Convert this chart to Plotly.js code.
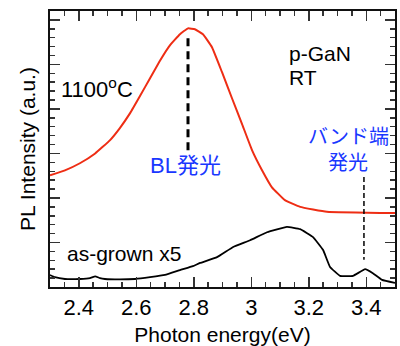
<!DOCTYPE html>
<html>
<head>
<meta charset="utf-8">
<script src="https://cdn.plot.ly/plotly-3.0.1.min.js"></script>
<style>html,body{margin:0;padding:0;background:#fff;}#chart{width:400px;height:346px;}</style>
</head>
<body>
<div id="chart"></div>
<script>
// 1100°C annealed sample (red)
var annealE = [2.300, 2.352, 2.404, 2.457, 2.509, 2.543, 2.578, 2.613, 2.648, 2.683, 2.717, 2.752, 2.780, 2.804, 2.832, 2.863, 2.898, 2.933, 2.968, 3.003, 3.037, 3.072, 3.117, 3.170, 3.263, 3.500];
var annealI = [2.51, 2.62, 2.78, 3.00, 3.30, 3.57, 3.90, 4.29, 4.69, 5.09, 5.43, 5.68, 5.81, 5.79, 5.68, 5.39, 4.83, 4.24, 3.66, 3.07, 2.63, 2.24, 1.95, 1.80, 1.69, 1.66];
// as-grown sample x5 (black)
var grownE = [2.30, 2.317, 2.352, 2.404, 2.439, 2.457, 2.474, 2.491, 2.543, 2.596, 2.648, 2.700, 2.752, 2.797, 2.822, 2.881, 2.937, 2.996, 3.055, 3.124, 3.170, 3.215, 3.250, 3.274, 3.309, 3.354, 3.396, 3.423, 3.455, 3.500];
var grownI = [0.27, 0.22, 0.18, 0.18, 0.20, 0.24, 0.20, 0.18, 0.17, 0.18, 0.22, 0.27, 0.38, 0.47, 0.54, 0.67, 0.90, 1.05, 1.23, 1.35, 1.30, 1.12, 0.83, 0.45, 0.25, 0.25, 0.40, 0.31, 0.16, 0.09];
// marker lines
var blLineE = [2.78, 2.78];
var blLineI = [5.59, 3.07];
var edgeLineE = [3.392, 3.392];
var edgeLineI = [2.47, 0.61];
// ticks
var xTickVals = [2.4, 2.6, 2.8, 3.0, 3.2, 3.4];
var xTickText = ['2.4', '2.6', '2.8', '3', '3.2', '3.4'];

var FONT = 'Liberation Sans, Arial, Helvetica, Noto Sans CJK JP, sans-serif';
var JFONT = 'Liberation Sans, Arial, Noto Sans CJK JP, sans-serif';
var BLUE = 'rgb(25,55,255)';

var traces = [
  {x: annealE, y: annealI, type: 'scatter', mode: 'lines', line: {color: 'rgb(238,45,20)', width: 2, shape: 'spline', smoothing: 0.3}, name: '1100°C', hoverinfo: 'skip'},
  {x: grownE, y: grownI, type: 'scatter', mode: 'lines', line: {color: '#000', width: 1.8, shape: 'spline', smoothing: 0.3}, name: 'as-grown x5', hoverinfo: 'skip'},
  {x: blLineE, y: blLineI, type: 'scatter', mode: 'lines', line: {color: '#000', width: 3, dash: '8px,5px'}, hoverinfo: 'skip'},
  {x: edgeLineE, y: edgeLineI, type: 'scatter', mode: 'lines', line: {color: '#000', width: 1.5, dash: '5px,3px'}, hoverinfo: 'skip'}
];

var layout = {
  width: 400, height: 346,
  margin: {l: 50, r: 5, t: 11, b: 59},
  paper_bgcolor: '#fff', plot_bgcolor: '#fff',
  showlegend: false,
  font: {family: FONT, color: '#000', size: 21},
  xaxis: {
    range: [2.3, 3.5], tickvals: xTickVals, ticktext: xTickText,
    ticks: 'inside', ticklen: 10, tickwidth: 1.5, tickcolor: '#333',
    minor: {dtick: 0.05, tick0: 2.3, ticks: 'inside', ticklen: 5, tickwidth: 1.5, tickcolor: '#333'},
    showline: true, linecolor: '#111', linewidth: 2, mirror: 'ticks',
    showgrid: false, zeroline: false,
    tickfont: {family: FONT, size: 22, color: '#000'},
    title: {text: 'Photon energy(eV)', font: {family: FONT, size: 21, color: '#000'}, standoff: 9}
  },
  yaxis: {
    range: [0, 6.2], dtick: 1, tick0: 0, showticklabels: false,
    ticks: 'inside', ticklen: 10, tickwidth: 1.5, tickcolor: '#333',
    minor: {dtick: 0.2, tick0: 0, ticks: 'inside', ticklen: 5, tickwidth: 1.5, tickcolor: '#333'},
    showline: true, linecolor: '#111', linewidth: 2, mirror: 'ticks',
    showgrid: false, zeroline: false,
    title: {text: 'PL Intensity (a.u.)', font: {family: FONT, size: 21, color: '#000'}, standoff: 7}
  },
  annotations: [
    {x: 2.463, y: 4.47, xref: 'x', yref: 'y', text: '1100<sup>o</sup>C', showarrow: false, font: {family: FONT, size: 22, color: '#000'}},
    {x: 3.124, y: 5.25, xref: 'x', yref: 'y', xanchor: 'left', text: 'p-GaN', showarrow: false, font: {family: FONT, size: 21, color: '#000'}},
    {x: 3.124, y: 4.71, xref: 'x', yref: 'y', xanchor: 'left', text: 'RT', showarrow: false, font: {family: FONT, size: 21, color: '#000'}},
    {x: 2.773, y: 2.74, xref: 'x', yref: 'y', text: 'BL発光', showarrow: false, font: {family: JFONT, size: 22, color: BLUE}},
    {x: 3.337, y: 3.37, xref: 'x', yref: 'y', text: 'バンド端', showarrow: false, font: {family: JFONT, size: 20, color: BLUE}},
    {x: 3.335, y: 2.78, xref: 'x', yref: 'y', text: '発光', showarrow: false, font: {family: JFONT, size: 20, color: BLUE}},
    {x: 2.352, y: 0.76, xref: 'x', yref: 'y', xanchor: 'left', text: 'as-grown x5', showarrow: false, font: {family: FONT, size: 21, color: '#000'}}
  ]
};

Plotly.newPlot('chart', traces, layout, {staticPlot: true, displayModeBar: false});
</script>
</body>
</html>
